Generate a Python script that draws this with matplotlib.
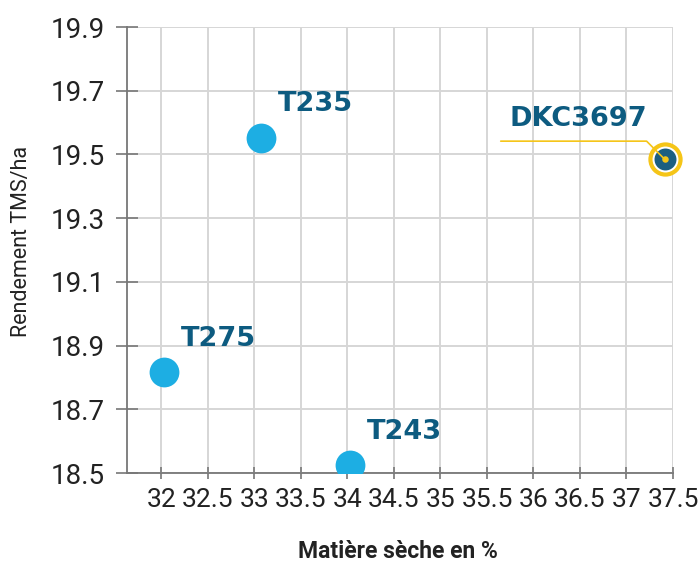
import matplotlib
matplotlib.use("Agg")
import matplotlib.pyplot as plt

# Data
names = ["T235", "T275", "T243", "DKC3697"]
dry_matter = [33.07, 32.03, 34.03, 37.41]
yield_tms = [19.553, 18.817, 18.525, 19.485]
x_ticks = [32, 32.5, 33, 33.5, 34, 34.5, 35, 35.5, 36, 36.5, 37, 37.5]
x_tick_labels = ["32", "32.5", "33", "33.5", "34", "34.5", "35", "35.5", "36", "36.5", "37", "37.5"]
y_ticks = [18.5, 18.7, 18.9, 19.1, 19.3, 19.5, 19.7, 19.9]
y_tick_labels = ["18.5", "18.7", "18.9", "19.1", "19.3", "19.5", "19.7", "19.9"]

tick_font = ["Roboto", "DejaVu Sans"]
light_blue = "#1daee3"
dark_blue = "#0d5b80"
yellow = "#f5c518"

fig = plt.figure(figsize=(6.99, 5.63), dpi=100)
ax = fig.add_axes([127/699, 1-473/563, (673-127)/699, (473-27)/563])
ax.set_xlim(31.63, 37.5)
ax.set_ylim(18.5, 19.9)

ax.set_xticks(x_ticks)
ax.set_xticklabels(x_tick_labels, family=tick_font, fontsize=19, color="#222222")
ax.set_yticks(y_ticks)
ax.set_yticklabels(y_tick_labels, family=tick_font, fontsize=20, color="#222222")
ax.tick_params(axis="y", direction="inout", length=16, width=1.2, color="#777777", pad=8)
ax.tick_params(axis="x", direction="inout", length=9, width=1.2, color="#777777", pad=6)
ax.grid(True, color="#d6d6d6", linewidth=1.4)
ax.set_axisbelow(True)
for s in ["top", "right"]:
    ax.spines[s].set_visible(False)
for s in ["left", "bottom"]:
    ax.spines[s].set_color("#777777")
    ax.spines[s].set_linewidth(1.3)

ax.set_ylabel("Rendement TMS/ha", family=tick_font, fontsize=15.5, color="#222222",
              va="center", ha="center")
ax.yaxis.set_label_coords((22-127)/546, (473-241)/446)
ax.set_xlabel("Matière sèche en %", family=tick_font, fontsize=16.5, fontweight="bold",
              color="#222222", va="center", ha="center")
ax.xaxis.set_label_coords((398-127)/546, (473-551)/446)

# regular points
for n, x, y in zip(names[:3], dry_matter[:3], yield_tms[:3]):
    ax.scatter([x], [y], s=460, color=light_blue, zorder=3, linewidths=0)
    ax.annotate(n, (x, y), xytext=(12, 24), textcoords="offset points",
                fontsize=19.5, fontweight="bold", color=dark_blue, family="DejaVu Sans",
                va="center", ha="left")

# highlighted point
xh, yh = dry_matter[3], yield_tms[3]
ax.scatter([xh], [yh], s=470, facecolor="white", edgecolor=yellow, linewidths=3,
           zorder=3, clip_on=False)
ax.scatter([xh], [yh], s=250, color="#1c5e80", linewidths=0, zorder=4, clip_on=False)
ax.annotate("", xy=(xh, yh), xytext=(-118, 13), textcoords="offset points",
            arrowprops=dict(arrowstyle="-", color=yellow, lw=1.2, shrinkA=0, shrinkB=0,
                            connectionstyle="angle,angleA=0,angleB=135,rad=0"),
            zorder=5, annotation_clip=False)
ax.scatter([xh], [yh], s=22, color=yellow, linewidths=0, zorder=6, clip_on=False)
ax.annotate(names[3], (xh, yh), xytext=(-112, 29), textcoords="offset points",
            fontsize=19.5, fontweight="bold", color=dark_blue, family="DejaVu Sans",
            va="center", ha="left", annotation_clip=False)

fig.savefig("out.png", dpi=100)
